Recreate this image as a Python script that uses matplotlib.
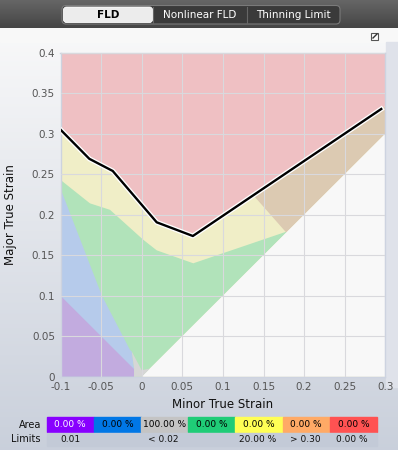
import numpy as np
import matplotlib
matplotlib.use('Agg')
import matplotlib.pyplot as plt
import matplotlib.patheffects as pe
from matplotlib.patches import Polygon, Rectangle, FancyBboxPatch

# Forming limit curve (black line)
fld_x = [-0.1, -0.0645, -0.0357, 0.0185, 0.063, 0.295]
fld_y = [0.305, 0.269, 0.254, 0.1906, 0.1737, 0.3305]

# Safety margin curve (lower edge of the yellow band)
safe_x = [-0.1, -0.0637, -0.039, 0.002, 0.0185, 0.0635, 0.178]
safe_y = [0.243, 0.214, 0.206, 0.169, 0.156, 0.14, 0.179]

# Excess thinning edge (tan zone)
thin_x = [0.1375, 0.178]
thin_y = [0.224, 0.178]

# Wrinkling tendency edge (blue zone)
wrinkle_x = [-0.1, -0.0945, -0.049, -0.0144, -0.0122, -0.0094]
wrinkle_y = [0.232, 0.218, 0.1, 0.033, 0.031, 0.0104]

# Insufficient stretch corner (grey zone)
grey_x = [-0.0094, -0.0094, -0.0122, 0.0, 0.01, 0.0]
grey_y = [0.0, 0.0104, 0.031, 0.008, 0.01, 0.0]

x_ticks = [-0.1, -0.05, 0, 0.05, 0.1, 0.15, 0.2, 0.25, 0.3]
x_labels = ['-0.1', '-0.05', '0', '0.05', '0.1', '0.15', '0.2', '0.25', '0.3']
y_ticks = [0, 0.05, 0.1, 0.15, 0.2, 0.25, 0.3, 0.35, 0.4]
y_labels = ['0', '0.05', '0.1', '0.15', '0.2', '0.25', '0.3', '0.35', '0.4']

tabs = ['FLD', 'Nonlinear FLD', 'Thinning Limit']
area_values = ['0.00 %', '0.00 %', '100.00 %', '0.00 %', '0.00 %', '0.00 %', '0.00 %']
area_colors = ['#8800ff', '#0077e6', '#c4c4c4', '#1fcc77', '#ffff55', '#ffaa66', '#ff5252']
area_text = ['#ffffff', '#000000', '#000000', '#000000', '#000000', '#000000', '#000000']
limit_labels = ['0.01', '< 0.02', '20.00 %', '> 0.30', '0.00 %']
limit_pos = [70, 163, 258, 305, 352]

W, H = 398, 450
fig = plt.figure(figsize=(W / 100, H / 100), dpi=100)

# background in pixel coordinates
bg = fig.add_axes([0, 0, 1, 1])
bg.set_xlim(0, W)
bg.set_ylim(H, 0)
bg.axis('off')
grad = np.linspace(0, 1, 256).reshape(-1, 1)
top_c = np.array([0.975, 0.975, 0.978])
bot_c = np.array([0.79, 0.815, 0.86])
img = top_c + (bot_c - top_c) * grad[:, :, None]
bg.imshow(img, extent=[0, W, H, 28], aspect='auto', zorder=0)
bg.add_patch(Rectangle((0, 28), W, 14, color='#f8f8f8', zorder=1))
bg.add_patch(Rectangle((386, 42), 12, 345, color='#dfe2ea', zorder=1))

# toolbar
bar = np.linspace(0, 1, 64).reshape(-1, 1)
bar_img = np.array([0.40, 0.40, 0.40]) + (np.array([0.27, 0.27, 0.27]) - 0.40) * bar[:, :, None]
bg.imshow(bar_img, extent=[0, W, 28, 0], aspect='auto', zorder=1)
bg.add_patch(FancyBboxPatch((62, 5.5), 278, 18.5, boxstyle='round,pad=0,rounding_size=4',
                            fc='#3a3a3a', ec='#7a7a7a', lw=0.8, zorder=2))
bg.add_patch(FancyBboxPatch((63.5, 7), 89, 15.5, boxstyle='round,pad=0,rounding_size=3',
                            fc='#ececec', ec='#ffffff', lw=0.6, zorder=3))
for xs in [153, 247]:
    bg.plot([xs, xs], [6.5, 23], color='#666666', lw=0.8, zorder=3)
tab_x = [108, 200, 293]
for i, t in enumerate(tabs):
    bg.text(tab_x[i], 15, t, ha='center', va='center', fontsize=7.5,
            color='#000000' if i == 0 else '#ffffff', fontweight='bold' if i == 0 else 'normal',
            zorder=4)

# small icon top right
bg.add_patch(Rectangle((371, 33), 7, 7, fc='#ffffff', ec='#555555', lw=0.8, zorder=2))
bg.plot([373, 377], [38, 34], color='#333333', lw=1, zorder=3)

# bottom table
cell_w = (377 - 46.7) / 7
for i, v in enumerate(area_values):
    x0 = 46.7 + i * cell_w
    bg.add_patch(Rectangle((x0, 417), cell_w, 15, color=area_colors[i], zorder=2))
    bg.text(x0 + cell_w / 2, 424.5, v, ha='center', va='center', fontsize=6.5,
            color=area_text[i], zorder=3)
bg.add_patch(Rectangle((46.7, 433), 377 - 46.7, 13, color='#c3cad7', zorder=2))
for lab, xp in zip(limit_labels, limit_pos):
    bg.text(xp, 439.5, lab, ha='center', va='center', fontsize=6.5, color='#111111', zorder=3)
bg.text(41, 424.5, 'Area', ha='right', va='center', fontsize=7, color='#111111')
bg.text(41, 439.5, 'Limits', ha='right', va='center', fontsize=7, color='#111111')

# FLD chart
ax = fig.add_axes([60.5 / W, 1 - 376.7 / H, (385.3 - 60.5) / W, (376.7 - 52.7) / H])
ax.set_xlim(-0.1, 0.3)
ax.set_ylim(0, 0.4)
ax.set_facecolor('#f8f8f8')

red = list(zip(fld_x, fld_y)) + [(0.3, 0.334), (0.3, 0.4), (-0.1, 0.4)]
ax.add_patch(Polygon(red, closed=True, fc='#efc0c3', ec='none', zorder=1))
yellow = [(-0.1, 0)] + list(zip(fld_x, fld_y)) + [(0.3, 0.334), (0.3, 0)]
ax.add_patch(Polygon(yellow, closed=True, fc='#f0eec7', ec='none', zorder=1))
green = [(-0.1, 0)] + list(zip(safe_x, safe_y)) + [(0.179, 0.179), (0, 0)]
ax.add_patch(Polygon(green, closed=True, fc='#b1e3ba', ec='none', zorder=1))
fx_seg = [x for x in fld_x if x > thin_x[0]]
fy_seg = [y for x, y in zip(fld_x, fld_y) if x > thin_x[0]]
tan = ([(thin_x[0], thin_y[0])] + list(zip(fx_seg, fy_seg)) +
       [(0.3, 0.334), (0.3, 0.3), (thin_x[1], thin_y[1])])
ax.add_patch(Polygon(tan, closed=True, fc='#dccab2', ec='none', zorder=1))
ax.add_patch(Polygon([(0, 0), (0.3, 0.3), (0.3, 0)], closed=True, fc='#f8f8f8', ec='none', zorder=1))
blue = [(-0.1, 0)] + list(zip(wrinkle_x, wrinkle_y)) + [(-0.0094, 0)]
ax.add_patch(Polygon(blue, closed=True, fc='#b6cbeb', ec='none', zorder=1))
ax.add_patch(Polygon([(-0.1, 0), (-0.1, 0.1), (-0.0094, 0.0094), (-0.0094, 0)], closed=True,
                     fc='#c2abdf', ec='none', zorder=1))
ax.add_patch(Polygon(list(zip(grey_x, grey_y)), closed=True, fc='#d6d6d6', ec='none', zorder=1))

ax.plot(fld_x, fld_y, color='black', lw=1.7, zorder=3, solid_joinstyle='round',
        path_effects=[pe.Stroke(linewidth=3.6, foreground='white'), pe.Normal()])

ax.set_xticks(x_ticks)
ax.set_xticklabels(x_labels)
ax.set_yticks(y_ticks)
ax.set_yticklabels(y_labels)
ax.grid(True, color='#d9d9dd', lw=0.8)
ax.set_axisbelow(False)
ax.tick_params(length=0, labelsize=7.5, labelcolor='#555555', pad=4)
for s in ax.spines.values():
    s.set_color('#cdd3e0')
    s.set_linewidth(1)
ax.set_xlabel('Minor True Strain', fontsize=8.5, color='#111111', labelpad=4)
ax.set_ylabel('Major True Strain', fontsize=8.5, color='#111111', labelpad=11)

fig.savefig('out.png', dpi=100)
